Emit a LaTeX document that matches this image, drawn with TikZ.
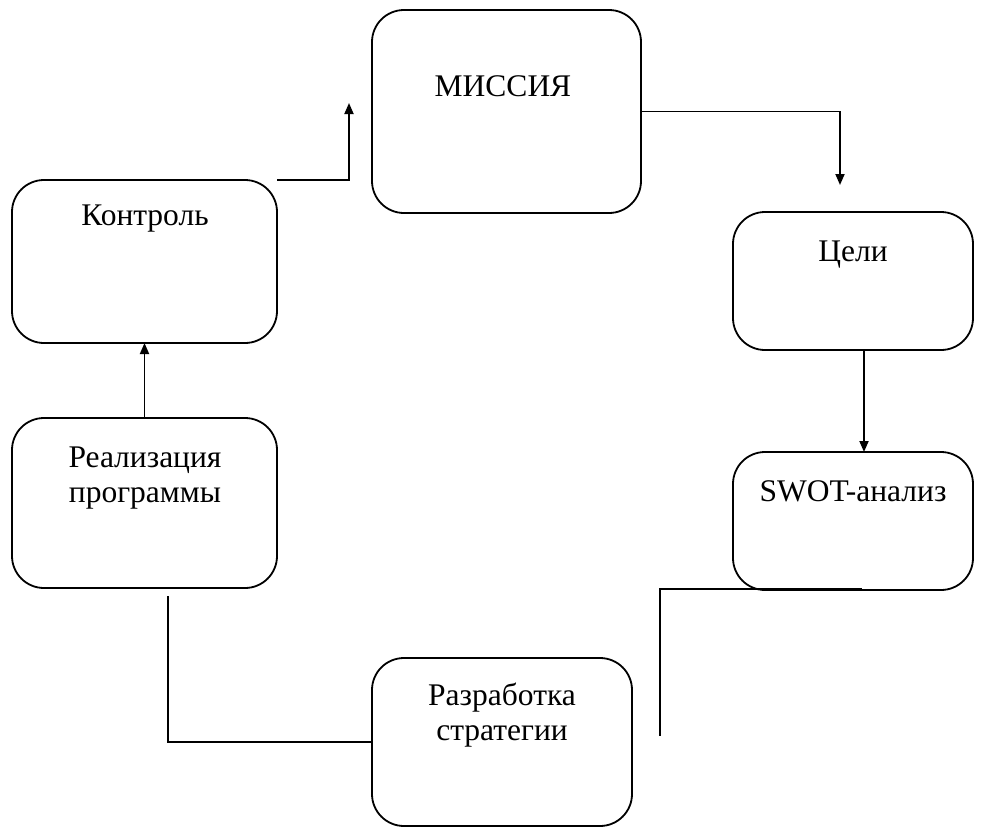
\documentclass[tikz,border=0pt]{standalone}
\usepackage{fontspec}
\setmainfont{Liberation Serif}
\usetikzlibrary{arrows.meta}
\begin{document}
\begin{tikzpicture}[x=1pt,y=-1pt,
  box/.style={draw,line width=1.8pt,rounded corners=32pt,inner sep=0pt,outer sep=0pt},
  lbl/.style={font=\fontsize{31.5}{35}\selectfont,align=center,inner sep=0pt},
  conn/.style={line width=1.8pt},
  arr/.style={conn,-{Triangle[length=11pt,width=9pt]}}]
\useasboundingbox (0,0) rectangle (986,828);
% boxes
\node[box,minimum width=269pt,minimum height=203pt] (m) at (506.5,111.5) {};
\node[box,minimum width=265pt,minimum height=163pt] (k) at (144.5,261.5) {};
\node[box,minimum width=240pt,minimum height=138pt] (c) at (853,281) {};
\node[box,minimum width=240pt,minimum height=138pt] (s) at (853,521) {};
\node[box,minimum width=265pt,minimum height=170pt] (r) at (144.5,503) {};
\node[box,minimum width=260pt,minimum height=168pt] (p) at (502,742) {};
% labels
\node[lbl] (tm) at (503,86) {МИССИЯ};
\node[lbl] (tk) at (145,219) {Контроль};
\node[lbl] (tc) at (853,255) {Цели};
\node[lbl] (ts) at (853,491) {SWOT-анализ};
\node[lbl] (tr) at (145,478) {Реализация\\программы};
\node[lbl] (tp) at (502,715) {Разработка\\стратегии};
% connector coordinates
\coordinate (mtip) at (349,103);
\coordinate (ctip) at (840,185);
\coordinate (sstart) at (862,589);
\coordinate (send) at (660,736);
\coordinate (rstart) at (168,596);
% connectors
\draw[arr] (k.north east) -| (mtip);
\draw[arr] (m.east) -| (ctip);
\draw[arr] ([xshift=11pt]c.south) -- ([xshift=11pt]s.north);
\draw[arr] (r.north) -- (k.south);
\draw[conn] (sstart) -| (send);
\draw[conn] (rstart) |- (p.west);
\end{tikzpicture}
\end{document}
